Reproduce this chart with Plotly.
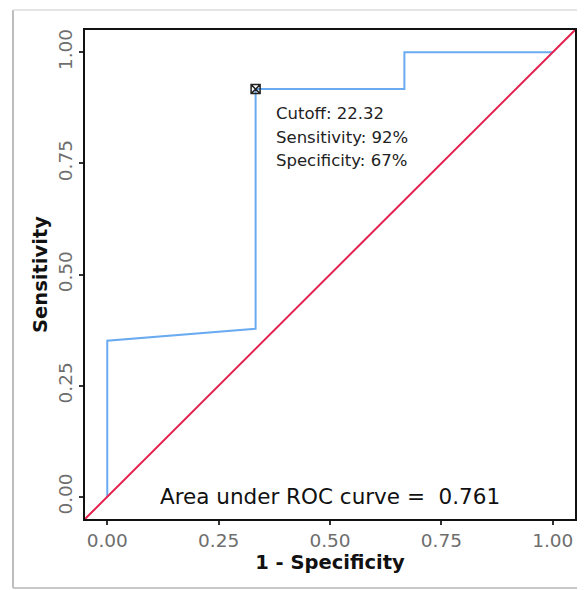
import plotly.graph_objects as go

# ROC curve points (1 - specificity, sensitivity)
fpr = [0.0, 0.0, 0.0, 0.333, 0.333, 0.667, 0.667, 1.0]
tpr = [0.0, 0.0, 0.351, 0.378, 0.917, 0.917, 1.0, 1.0]
ref_x = [-0.05, 1.05]
ref_y = [-0.05, 1.05]
cut_x = [0.333]
cut_y = [0.917]
cut_lines = ["Cutoff: 22.32", "Sensitivity: 92%", "Specificity: 67%"]
auc_text = "Area under ROC curve =  0.761"
ticks = [0.0, 0.25, 0.5, 0.75, 1.0]
tick_text = ["0.00", "0.25", "0.50", "0.75", "1.00"]

fig = go.Figure()
fig.add_trace(go.Scatter(x=fpr, y=tpr, mode="lines",
                         line=dict(color="#6AAAF0", width=2), showlegend=False))
fig.add_trace(go.Scatter(x=ref_x, y=ref_y, mode="lines",
                         line=dict(color="#E2214F", width=2), showlegend=False))
fig.add_trace(go.Scatter(x=cut_x, y=cut_y, mode="markers",
                         marker=dict(symbol="square-x-open", size=9, color="#222222",
                                     line=dict(width=1.5, color="#222222")),
                         showlegend=False))

for i, t in enumerate(cut_lines):
    fig.add_annotation(x=0.375, y=0.862 - i * 0.053, xref="x", yref="y", text=t,
                       showarrow=False, xanchor="left", yanchor="middle",
                       font=dict(family="DejaVu Sans", size=16.5, color="#222222"))

fig.add_annotation(x=0.5, y=0.0, xref="x", yref="y", text=auc_text, showarrow=False,
                   xanchor="center", yanchor="middle",
                   font=dict(family="DejaVu Sans", size=21.5, color="#111111"))

# page border of the screenshot (left, top and bottom edges visible)
bx0 = (13 - 85) / 490
by0 = -(588 - 519) / 489
by1 = 1 + (30 - 10) / 489
bx1 = 1 + (592 - 575) / 490
fig.add_shape(type="line", xref="paper", yref="paper", x0=bx0, x1=bx0, y0=by0, y1=by1,
              line=dict(color="#BDBDBD", width=2), layer="below")
fig.add_shape(type="line", xref="paper", yref="paper", x0=bx0, x1=bx1, y0=by1, y1=by1,
              line=dict(color="#DDDDDD", width=1.5), layer="below")
fig.add_shape(type="line", xref="paper", yref="paper", x0=bx0, x1=bx1, y0=by0, y1=by0,
              line=dict(color="#C8C8C8", width=2), layer="below")

axis_common = dict(range=[-0.05, 1.05], tickvals=ticks, ticktext=tick_text,
                   showgrid=False, zeroline=False, showline=True, mirror=True,
                   linecolor="#111111", linewidth=2, ticks="outside", ticklen=4,
                   tickcolor="#333333", tickwidth=1.5, automargin=False,
                   tickfont=dict(family="DejaVu Sans", size=18.5, color="#6E6E6E"))

fig.update_xaxes(**axis_common,
                 title=dict(text="<b>1 - Specificity</b>", standoff=2,
                            font=dict(family="DejaVu Sans", size=19.5, color="#111111")))
fig.update_yaxes(**axis_common, tickangle=-90,
                 title=dict(text="<b>Sensitivity</b>", standoff=2,
                            font=dict(family="DejaVu Sans", size=19.5, color="#111111")))

# the page body adds an 8px offset; figure sized so it fits the 585x590 window without overflow
fig.update_layout(width=577, height=582, plot_bgcolor="white", paper_bgcolor="white",
                  margin=dict(l=77, r=10, t=22, b=71))

fig.write_html("out.html")
